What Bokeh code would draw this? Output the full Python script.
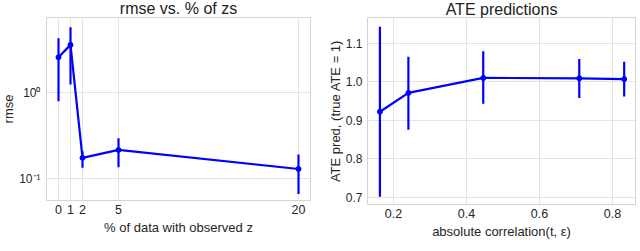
from bokeh.plotting import figure
from bokeh.layouts import row
from bokeh.models import FixedTicker, ColumnDataSource, PrintfTickFormatter, CustomJSTickFormatter
from bokeh.embed import file_html
from bokeh.resources import INLINE

# ---- left panel data: rmse vs % of data with observed z ----
pct_z = [0, 1, 2, 5, 20]
rmse_mean = [2.57, 3.58, 0.174, 0.215, 0.129]
rmse_low = [0.79, 1.24, 0.133, 0.135, 0.066]
rmse_high = [4.28, 5.75, 0.208, 0.294, 0.19]
left_xticks = [0, 1, 2, 5, 20]
left_yticks = [0.1, 1.0]

# ---- right panel data: ATE predictions vs absolute correlation ----
abs_corr = [0.163, 0.241, 0.446, 0.709, 0.832]
ate_mean = [0.922, 0.971, 1.010, 1.009, 1.007]
ate_low = [0.701, 0.875, 0.943, 0.958, 0.962]
ate_high = [1.143, 1.065, 1.079, 1.059, 1.052]
right_xticks = [0.2, 0.4, 0.6, 0.8]
right_yticks = [0.7, 0.8, 0.9, 1.0, 1.1]

FONT = "Liberation Sans"
BLUE = "#0000ff"
GRID = "#e4e4e4"
FRAME = "#d4d4d4"


def style(p):
    p.title.text_font = FONT
    p.title.text_font_size = "16px"
    p.title.text_font_style = "normal"
    p.title.align = "center"
    p.title.text_color = "#222222"
    p.title.text_line_height = 1.0
    p.title.offset = 0
    p.outline_line_color = FRAME
    p.outline_line_width = 1
    p.background_fill_color = "white"
    p.border_fill_color = "white"
    for ax in (p.xaxis, p.yaxis):
        ax.axis_line_color = None
        ax.major_tick_line_color = None
        ax.minor_tick_line_color = None
        ax.major_tick_out = 0
        ax.major_tick_in = 0
        ax.minor_tick_out = 0
        ax.minor_tick_in = 0
        ax.major_label_text_font = FONT
        ax.major_label_text_font_size = "12.5px"
        ax.major_label_text_color = "#262626"
        ax.axis_label_text_font = FONT
        ax.axis_label_text_font_size = "13px"
        ax.axis_label_text_font_style = "normal"
        ax.axis_label_text_color = "#262626"
    p.yaxis.major_label_text_font_size = "12px"
    p.xaxis.major_label_standoff = 4
    p.xaxis.axis_label_standoff = 3
    p.yaxis.axis_label_standoff = 0
    p.grid.grid_line_color = GRID
    p.grid.grid_line_width = 1


sup_code = """
const e = Math.round(Math.log10(tick));
const sup = {"-": "\u207b", "0": "\u2070", "1": "\u00b9", "2": "\u00b2", "3": "\u00b3",
             "4": "\u2074", "5": "\u2075", "6": "\u2076", "7": "\u2077", "8": "\u2078", "9": "\u2079"};
return "10" + String(e).split("").map((c) => sup[c]).join("");
"""

# left
src1 = ColumnDataSource(dict(x=pct_z, y=rmse_mean, lo=rmse_low, hi=rmse_high))
p1 = figure(frame_width=264, frame_height=183, min_border_left=38, min_border_right=9,
            min_border_top=17, min_border_bottom=51,
            x_range=(-1, 21), y_range=(0.0555, 7.45), y_axis_type="log",
            title="rmse vs. % of zs", output_backend="svg", toolbar_location=None)
style(p1)
p1.title.standoff = 2
p1.xaxis.ticker = FixedTicker(ticks=left_xticks, minor_ticks=[])
p1.yaxis.ticker = FixedTicker(ticks=left_yticks, minor_ticks=[])
p1.yaxis.formatter = CustomJSTickFormatter(code=sup_code)
p1.yaxis.major_label_standoff = 6
p1.xaxis.axis_label = "% of data with observed z"
p1.yaxis.axis_label = "rmse"
p1.segment(x0="x", y0="lo", x1="x", y1="hi", source=src1, line_color=BLUE, line_width=2.2)
p1.line(x="x", y="y", source=src1, line_color=BLUE, line_width=2.2)
p1.scatter(x="x", y="y", source=src1, size=5, fill_color=BLUE, line_color=BLUE)

# right
src2 = ColumnDataSource(dict(x=abs_corr, y=ate_mean, lo=ate_low, hi=ate_high))
p2 = figure(frame_width=268, frame_height=187, min_border_left=48, min_border_right=1,
            min_border_top=15, min_border_bottom=49,
            x_range=(0.129, 0.863), y_range=(0.681, 1.167),
            title="ATE predictions", output_backend="svg", toolbar_location=None)
style(p2)
p2.title.standoff = 0
p2.xaxis.ticker = FixedTicker(ticks=right_xticks, minor_ticks=[])
p2.yaxis.ticker = FixedTicker(ticks=right_yticks, minor_ticks=[])
p2.yaxis.formatter = PrintfTickFormatter(format="%.1f")
p2.yaxis.major_label_standoff = 5
p2.xaxis.axis_label = "absolute correlation(t, ε)"
p2.yaxis.axis_label = "ATE pred, (true ATE = 1)"
p2.segment(x0="x", y0="lo", x1="x", y1="hi", source=src2, line_color=BLUE, line_width=2.2)
p2.line(x="x", y="y", source=src2, line_color=BLUE, line_width=2.2)
p2.scatter(x="x", y="y", source=src2, size=5, fill_color=BLUE, line_color=BLUE)

layout = row(p1, p2, styles={"margin-top": "-4px", "margin-left": "-2px"})

open("out.html", "w").write(file_html(layout, INLINE))
